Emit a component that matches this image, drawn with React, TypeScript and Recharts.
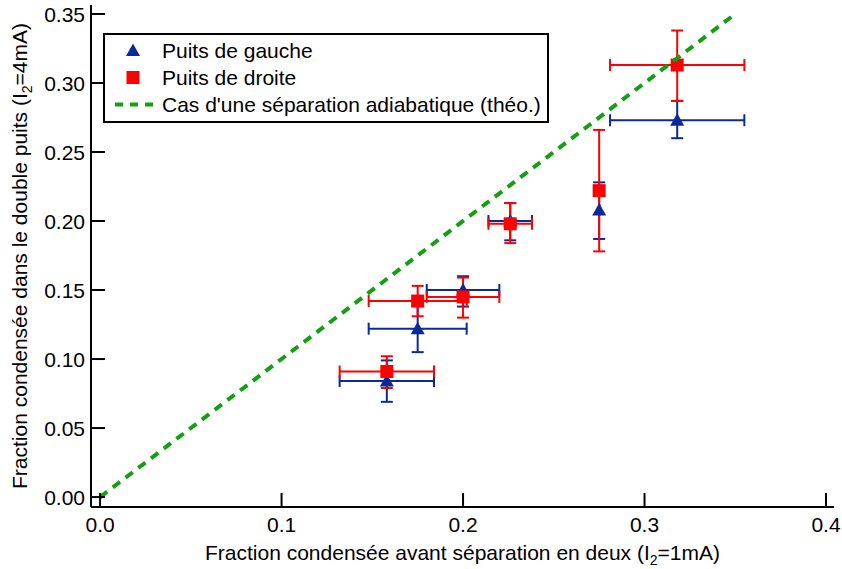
import { ScatterChart, Scatter, XAxis, YAxis, ErrorBar, Legend, Label } from "recharts";

const FONT = '"Liberation Sans", Arial, sans-serif';
const FS = 21;
const BLUE = "#0b2a9a";
const RED = "#ff0000";
const GREEN = "#12a012";

const xTicks = [0, 0.1, 0.2, 0.3, 0.4];
const yTicks = [0, 0.05, 0.1, 0.15, 0.2, 0.25, 0.3, 0.35];

const seriesNames = ["Puits de gauche", "Puits de droite", "Cas d'une séparation adiabatique (théo.)"];

// Puits de gauche
const gaucheX = [0.158, 0.175, 0.2, 0.226, 0.275, 0.318];
const gaucheY = [0.084, 0.122, 0.15, 0.2, 0.208, 0.273];
const gaucheXErr = [[0.026, 0.026], [0.027, 0.027], [0.02, 0.02], [0.012, 0.012], [0, 0], [0.037, 0.037]];
const gaucheYErr = [[0.015, 0.015], [0.017, 0.017], [0.012, 0.01], [0.014, 0.013], [0.021, 0.02], [0.013, 0.014]];

// Puits de droite
const droiteX = [0.158, 0.175, 0.2, 0.226, 0.275, 0.318];
const droiteY = [0.091, 0.142, 0.145, 0.198, 0.222, 0.313];
const droiteXErr = [[0.026, 0.026], [0.027, 0.027], [0.02, 0.02], [0.012, 0.012], [0, 0], [0.037, 0.037]];
const droiteYErr = [[0.012, 0.011], [0.011, 0.011], [0.015, 0.014], [0.014, 0.015], [0.044, 0.044], [0.026, 0.025]];

// separation adiabatique (theo.)
const theoX = [0, 0.35];
const theoY = [0, 0.35];

const gauche = gaucheX.map((x, i) => ({ x, y: gaucheY[i], ex: gaucheXErr[i], ey: gaucheYErr[i] }));
const droite = droiteX.map((x, i) => ({ x, y: droiteY[i], ex: droiteXErr[i], ey: droiteYErr[i] }));
const theo = theoX.map((x, i) => ({ x, y: theoY[i] }));

const TICK_LEN = 14;
const Y_MARGIN = 6;
const X_MARGIN = 10;

function YTick({ x, y, payload }: any) {
  const ax = x + Y_MARGIN;
  return (
    <g>
      <line x1={ax} x2={ax + TICK_LEN} y1={y} y2={y} stroke="#000" strokeWidth={2} />
      <text x={x} y={y} dy="0.36em" textAnchor="end" fontSize={FS} fontFamily={FONT} fill="#000">
        {payload.value.toFixed(2)}
      </text>
    </g>
  );
}

function XTick({ x, y, payload }: any) {
  const ay = y - X_MARGIN;
  return (
    <g>
      <line x1={x} x2={x} y1={ay} y2={ay - TICK_LEN} stroke="#000" strokeWidth={2} />
      <text x={x} y={y} dy="0.72em" textAnchor="middle" fontSize={FS} fontFamily={FONT} fill="#000">
        {payload.value.toFixed(1)}
      </text>
    </g>
  );
}

const noTick = () => null;

function Triangle({ cx, cy }: any) {
  return <polygon points={`${cx},${cy - 7} ${cx + 7},${cy + 5.5} ${cx - 7},${cy + 5.5}`} fill={BLUE} />;
}

function Square({ cx, cy }: any) {
  return <rect x={cx - 6.5} y={cy - 6.5} width={13} height={13} fill={RED} />;
}

function XLabel({ viewBox }: any) {
  const { x, y, width } = viewBox;
  return (
    <text x={x + width / 2} y={y + 53} textAnchor="middle" fontSize={FS} fontFamily={FONT} fill="#000">
      Fraction condensée avant séparation en deux (I
      <tspan fontSize={14} dy={5}>2</tspan>
      <tspan dy={-5}>=1mA)</tspan>
    </text>
  );
}

function YLabel({ viewBox }: any) {
  const { y, height } = viewBox;
  const cx = 27;
  const cy = y + height / 2;
  return (
    <text x={cx} y={cy} transform={`rotate(-90, ${cx}, ${cy})`} textAnchor="middle" fontSize={FS} fontFamily={FONT} fill="#000">
      Fraction condensée dans le double puits (I
      <tspan fontSize={14} dy={5}>2</tspan>
      <tspan dy={-5}>=4mA)</tspan>
    </text>
  );
}

function LegendMarker({ type, color }: any) {
  if (type === "triangle") {
    return <polygon points="28,6.5 35,19 21,19" fill={color} />;
  }
  if (type === "square") {
    return <rect x={21.5} y={7} width={13} height={13} fill={color} />;
  }
  return <line x1={10} x2={48} y1={13.5} y2={13.5} stroke={color} strokeWidth={4} strokeDasharray="8 7" />;
}

function LegendBox({ payload }: any) {
  const items = [...(payload || [])].sort(
    (a: any, b: any) => seriesNames.indexOf(a.value) - seriesNames.indexOf(b.value)
  );
  return (
    <div
      style={{
        width: 446,
        height: 90,
        border: "2px solid #000",
        boxSizing: "border-box",
        background: "#fff",
        fontFamily: FONT,
        fontSize: FS,
        paddingTop: 2,
        color: "#000",
      }}
    >
      {items.map((entry: any) => (
        <div key={entry.value} style={{ display: "flex", alignItems: "center", height: 27 }}>
          <svg width={57} height={27} style={{ flex: "none" }}>
            <LegendMarker type={entry.type} color={entry.color} />
          </svg>
          <span style={{ whiteSpace: "nowrap" }}>{entry.value}</span>
        </div>
      ))}
    </div>
  );
}

export default function App() {
  return (
    <div style={{ position: "absolute", left: 0, top: 0 }}>
      <ScatterChart width={842} height={569} margin={{ top: 5, right: 8, bottom: 0, left: 0 }} style={{ fontFamily: FONT }}>
        <XAxis
          type="number"
          dataKey="x"
          domain={[-0.005, 0.4044]}
          ticks={xTicks}
          allowDataOverflow
          height={62}
          tickSize={0}
          tickMargin={X_MARGIN}
          tick={<XTick />}
          axisLine={{ stroke: "#000", strokeWidth: 2 }}
        >
          <Label content={<XLabel />} />
        </XAxis>
        <YAxis
          type="number"
          dataKey="y"
          domain={[-0.0072, 0.3565]}
          ticks={yTicks}
          allowDataOverflow
          width={91}
          tickSize={0}
          tickMargin={Y_MARGIN}
          tick={<YTick />}
          axisLine={{ stroke: "#000", strokeWidth: 2 }}
        >
          <Label content={<YLabel />} />
        </YAxis>
        <XAxis
          xAxisId="top"
          orientation="top"
          type="number"
          domain={[-0.005, 0.4044]}
          ticks={[0, 0.4]}
          allowDataOverflow
          height={0}
          mirror
          tickSize={TICK_LEN}
          tick={noTick}
          tickLine={{ stroke: "#000", strokeWidth: 2 }}
          axisLine={{ stroke: "#000", strokeWidth: 2 }}
        />
        <YAxis
          yAxisId="right"
          orientation="right"
          type="number"
          domain={[-0.0072, 0.3565]}
          ticks={[0, 0.35]}
          allowDataOverflow
          width={0}
          mirror
          tickSize={TICK_LEN}
          tick={noTick}
          tickLine={{ stroke: "#000", strokeWidth: 2 }}
          axisLine={{ stroke: "#000", strokeWidth: 2 }}
        />
        <Legend
          layout="vertical"
          verticalAlign="middle"
          align="center"
          content={<LegendBox />}
          wrapperStyle={{ left: 103, top: 33, width: 446 }}
        />
        <Scatter name={seriesNames[0]} data={gauche} fill={BLUE} legendType="triangle" shape={<Triangle />} isAnimationActive={false}>
          <ErrorBar dataKey="ex" direction="x" width={6} stroke={BLUE} strokeWidth={2} />
          <ErrorBar dataKey="ey" direction="y" width={6} stroke={BLUE} strokeWidth={2} />
        </Scatter>
        <Scatter name={seriesNames[1]} data={droite} fill={RED} legendType="square" shape={<Square />} isAnimationActive={false}>
          <ErrorBar dataKey="ex" direction="x" width={6} stroke={RED} strokeWidth={2} />
          <ErrorBar dataKey="ey" direction="y" width={6} stroke={RED} strokeWidth={2} />
        </Scatter>
        <Scatter
          name={seriesNames[2]}
          data={theo}
          fill={GREEN}
          legendType="line"
          line={{ stroke: GREEN, strokeWidth: 4, strokeDasharray: "9 7" }}
          shape={noTick}
          isAnimationActive={false}
        />
      </ScatterChart>
    </div>
  );
}
